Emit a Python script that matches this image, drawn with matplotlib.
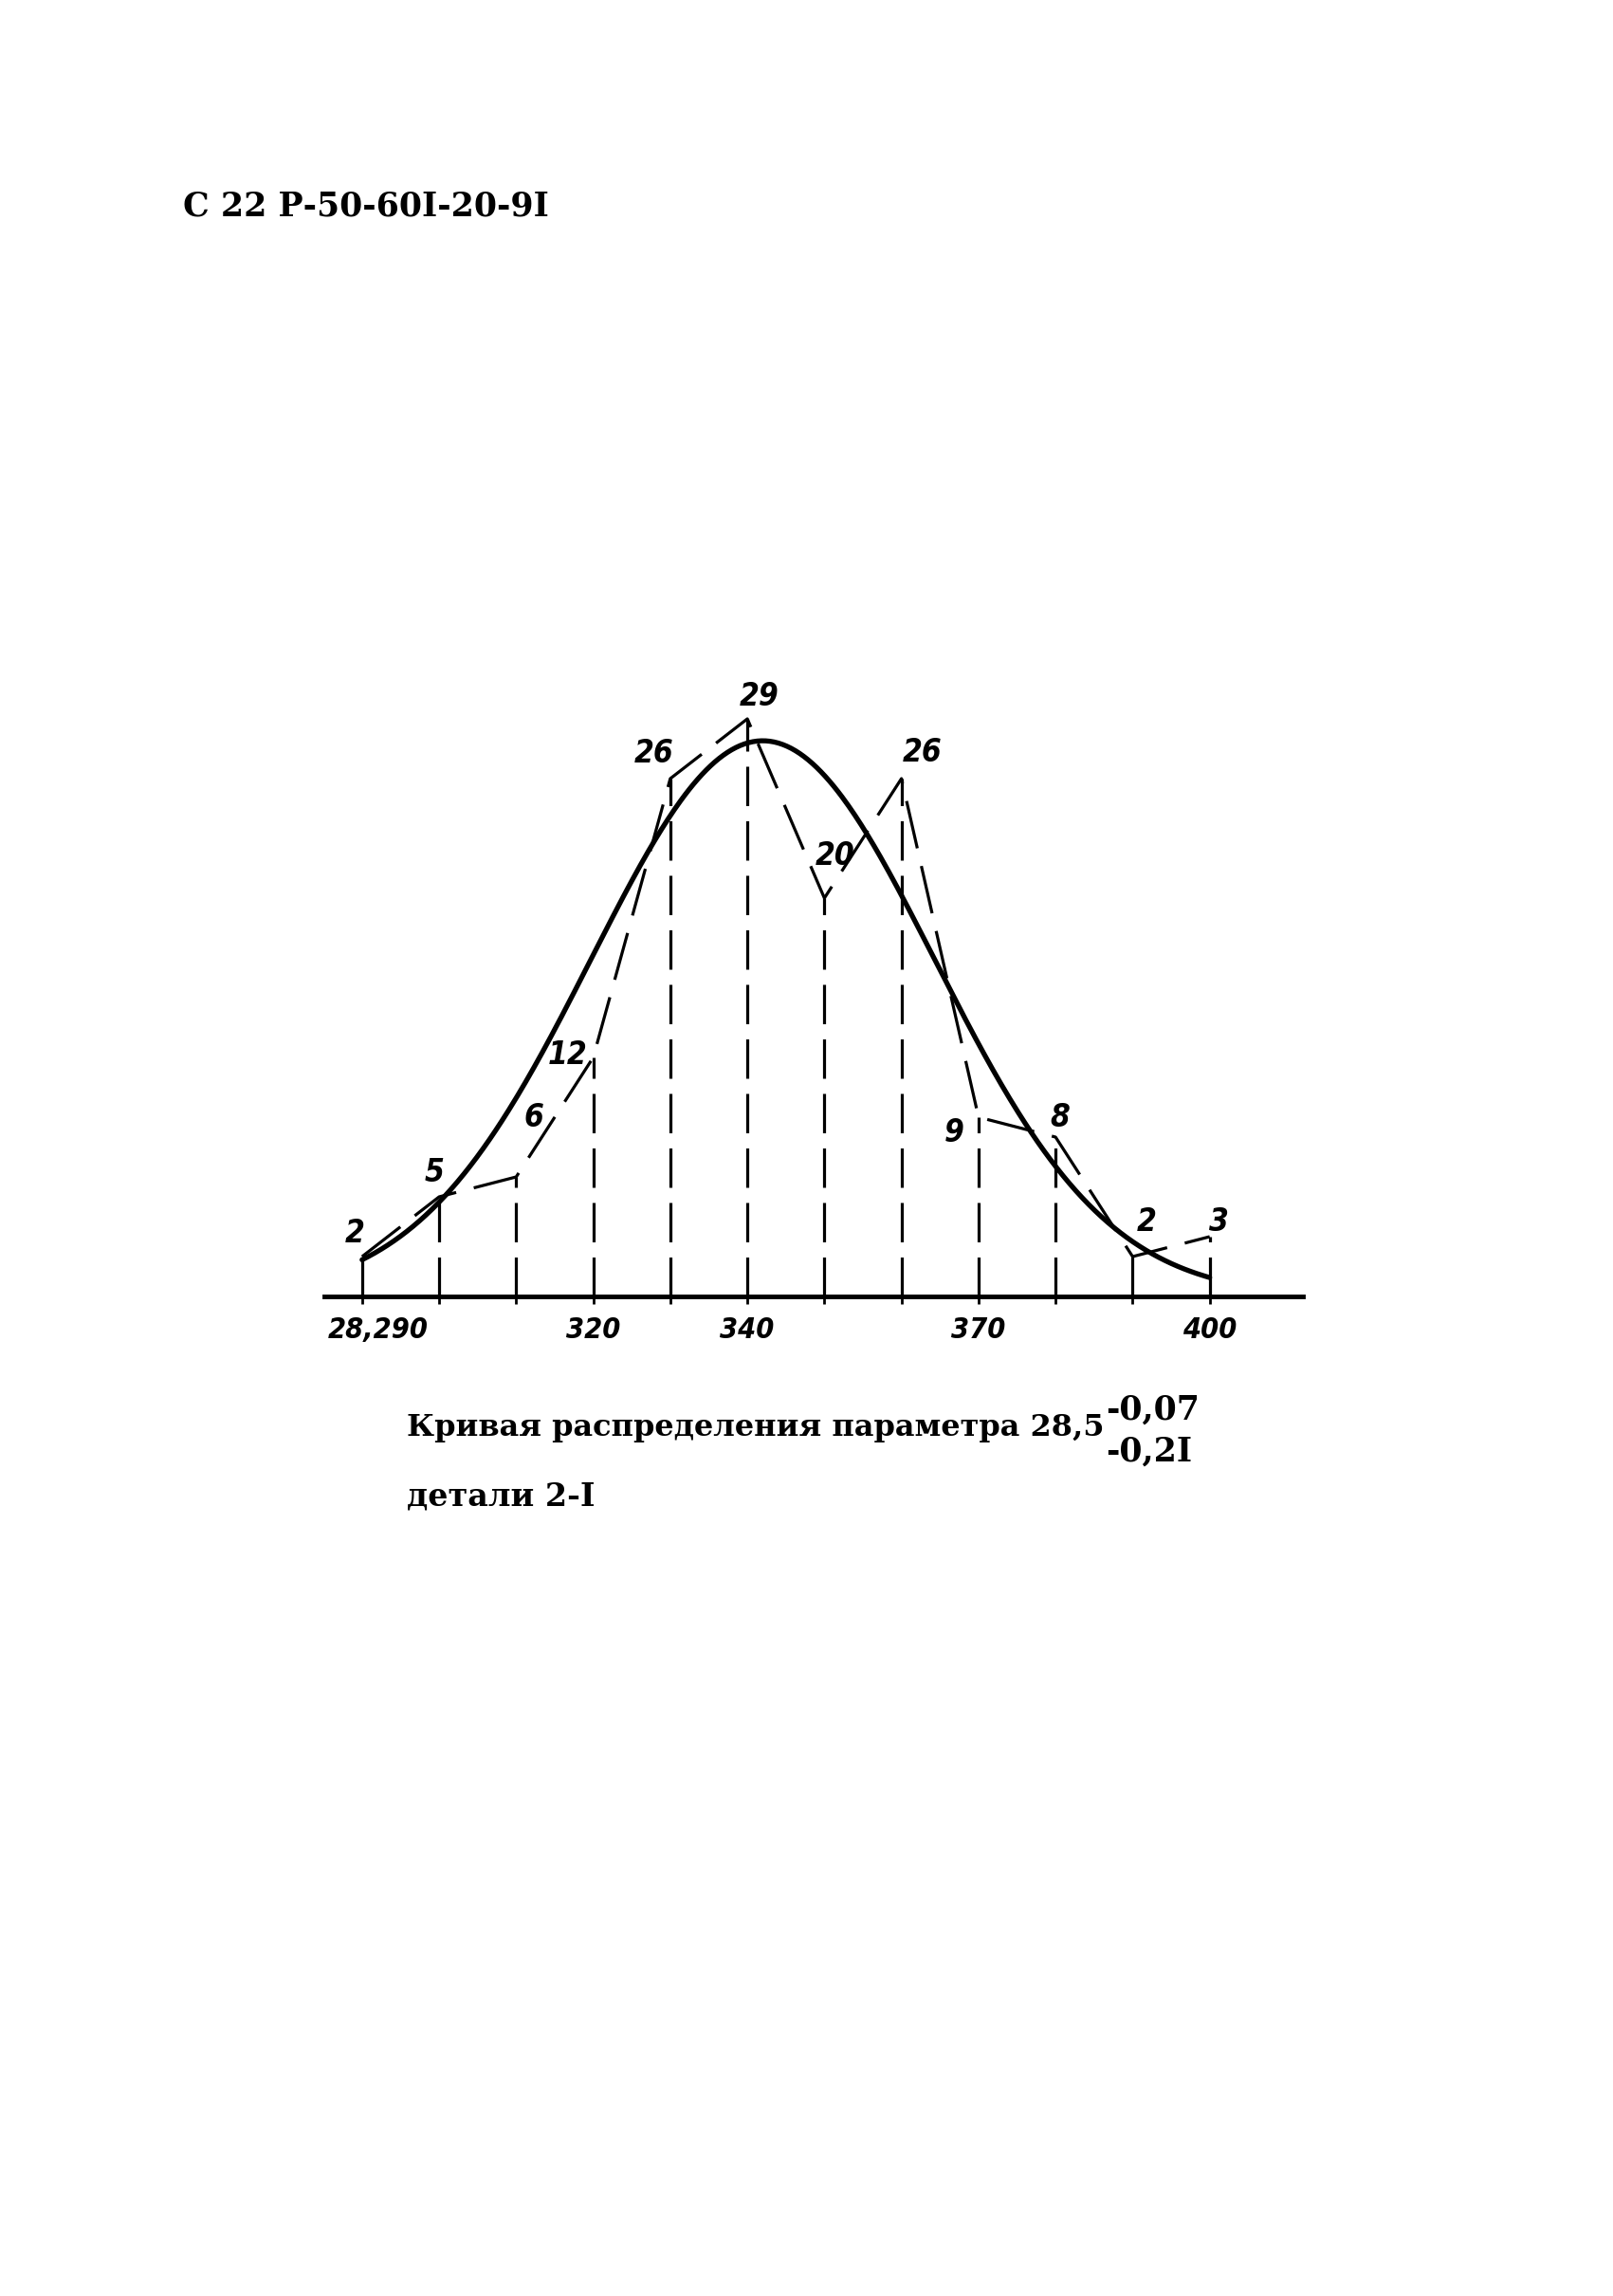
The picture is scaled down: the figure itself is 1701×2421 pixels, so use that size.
import matplotlib
matplotlib.use('Agg')
import matplotlib.pyplot as plt
from matplotlib.transforms import ScaledTranslation
import numpy as np

W, H = 1701, 2421

# frequency polygon: size classes and counts written at each point
sizes = [290, 300, 310, 320, 330, 340, 350, 360, 370, 380, 390, 400]
counts = [2, 5, 6, 12, 26, 29, 20, 26, 9, 8, 2, 3]

# only some ticks carry a label
label_ticks = [290, 320, 340, 370, 400]
label_texts = ['28,290', '320', '340', '370', '400']

# parameters of the smooth (normal) curve as drawn
curve_mean = 342.0
curve_sigma = 22.3
curve_peak = 27.9

header = 'С 22 Р-50-60I-20-9I'
caption_1 = 'Кривая распределения параметра 28,5'
upper_dev = '-0,07'
lower_dev = '-0,2I'
caption_2 = 'детали 2-I'

# where the hand-written count sits relative to its point (pixels)
count_offsets = [(-8, 24), (-5, 25), (19, 63), (-27, 2), (-17, 26), (13, 23),
                 (11, 45), (22, 27), (-26, -16), (5, 21), (15, 37), (10, 16)]


def fx(px):
    return px / W


def fy(py):
    return 1 - py / H


hand = dict(family='DejaVu Sans', style='italic', weight='bold', stretch='condensed')
typewriter = dict(family='DejaVu Serif', weight='bold')

fig = plt.figure(figsize=(W / 100, H / 100), dpi=100)
fig.patch.set_facecolor('white')

ax = fig.add_axes([fx(342), fy(1367), fx(1374) - fx(342), 672 / H])
ax.set_xlim(285.1, 412.1)
ax.set_ylim(0, 32)
for s in ['left', 'right', 'top']:
    ax.spines[s].set_visible(False)
ax.spines['bottom'].set_linewidth(3.5)
ax.set_yticks([])
ax.set_xticks(sizes)
ax.set_xticklabels([label_texts[label_ticks.index(v)] if v in label_ticks else '' for v in sizes])
ax.tick_params(axis='x', direction='inout', length=12, width=2, pad=9)
for t in ax.get_xticklabels():
    t.set_fontsize(22)
    t.set_fontstyle('italic')
    t.set_fontweight('bold')
    t.set_fontstretch('condensed')
# the first label is written a little to the right of its tick
first = ax.get_xticklabels()[0]
first.set_transform(first.get_transform() + ScaledTranslation(0.17, 0, fig.dpi_scale_trans))

# dashed verticals up to each count
ax.vlines(sizes, 0, counts, colors='black', linewidth=2.3, linestyles=[(0, (13, 5))])
# frequency polygon
ax.plot(sizes, counts, color='black', lw=2.3, ls=(0, (16, 6)), clip_on=False)
# smooth distribution curve
xs = np.linspace(sizes[0], sizes[-1], 400)
ys = curve_peak * np.exp(-(xs - curve_mean) ** 2 / (2 * curve_sigma ** 2))
ax.plot(xs, ys, color='black', lw=3.8, solid_capstyle='round', clip_on=False)

for v, c, off in zip(sizes, counts, count_offsets):
    ax.annotate(str(c), (v, c), xytext=off, textcoords='offset pixels',
                ha='center', va='center', fontsize=24, **hand)

# header and caption
fig.text(fx(193), fy(227), header, fontsize=25, va='baseline', **typewriter)
cap = fig.text(fx(429), fy(1514), caption_1, fontsize=23, va='baseline', **typewriter)
fig.text(fx(429), fy(1587), caption_2, fontsize=24, va='baseline', **typewriter)

# tolerance written as stacked super/subscript right after the nominal size
fig.canvas.draw()
bb = cap.get_window_extent()
x_dev = (bb.x1 + 2) / W
fig.text(x_dev, fy(1497), upper_dev, fontsize=25, va='baseline', **typewriter)
fig.text(x_dev, fy(1541), lower_dev, fontsize=25, va='baseline', **typewriter)

fig.savefig('out.png', dpi=100, facecolor='white')
